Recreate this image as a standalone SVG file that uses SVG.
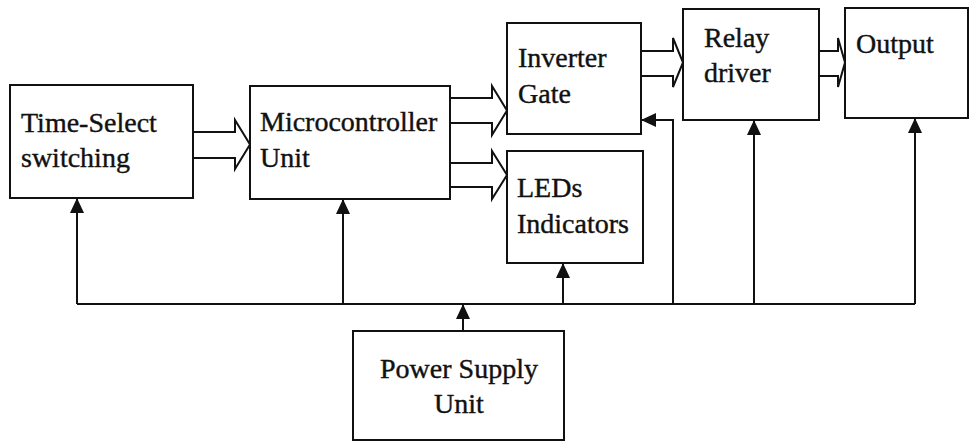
<svg xmlns="http://www.w3.org/2000/svg" width="970" height="441" viewBox="0 0 970 441">
<style>
.box{fill:#fff;stroke:#111;stroke-width:2}
.t{font-family:"Liberation Serif","Times New Roman",serif;font-size:28px;fill:#111;stroke:#111;stroke-width:0.4}
.c{text-anchor:middle}
.w{fill:none;stroke:#111;stroke-width:2;stroke-linejoin:miter}
.ln{fill:none;stroke:#111;stroke-width:2}
</style>
<defs>
<marker id="ah" viewBox="0 0 15 14" refX="15" refY="7" markerWidth="15" markerHeight="14" markerUnits="userSpaceOnUse" orient="auto">
<path d="M0 0 L15 7 L0 14 z" fill="#111"/>
</marker>
</defs>
<rect width="970" height="441" fill="#fff"/>
<g id="connectors">
<path class="w" d="M193 132 H235 V120 L250 144.5 L235 169 V158 H193"/>
<path class="w" d="M450 98 H492 V86 L507 110.5 L492 135 V123 H450"/>
<path class="w" d="M450 163 H492 V151 L507 175 L492 199 V187 H450"/>
<path class="w" d="M641 51 H673 V38 L683 62.5 L673 87 V76 H641"/>
<path class="w" d="M819 51 H838 V38 L845 62.5 L838 87 V76 H819"/>
<path class="ln" d="M77 304 H915"/>
<path class="ln" d="M77 304 V198" marker-end="url(#ah)"/>
<path class="ln" d="M343 304 V199" marker-end="url(#ah)"/>
<path class="ln" d="M563 304 V263" marker-end="url(#ah)"/>
<path class="ln" d="M754 304 V120" marker-end="url(#ah)"/>
<path class="ln" d="M915 304 V118" marker-end="url(#ah)"/>
<path class="ln" d="M673 304 V120 H641" marker-end="url(#ah)"/>
<path class="ln" d="M463 331 V304" marker-end="url(#ah)"/>
</g>
<g id="time-select">
<rect class="box" x="10" y="85" width="183" height="113"/>
<text class="t" x="21" y="132">Time-Select</text>
<text class="t" x="21" y="167">switching</text>
</g>
<g id="mcu">
<rect class="box" x="250" y="86" width="200" height="113"/>
<text class="t" x="260" y="131">Microcontroller</text>
<text class="t" x="260" y="167">Unit</text>
</g>
<g id="inverter">
<rect class="box" x="507" y="23" width="134" height="111"/>
<text class="t" x="518" y="67">Inverter</text>
<text class="t" x="518" y="103">Gate</text>
</g>
<g id="leds">
<rect class="box" x="507" y="151" width="136" height="112"/>
<text class="t" x="517" y="197">LEDs</text>
<text class="t" x="517" y="233">Indicators</text>
</g>
<g id="relay">
<rect class="box" x="683" y="9" width="136" height="111"/>
<text class="t" x="704" y="47">Relay</text>
<text class="t" x="704" y="82">driver</text>
</g>
<g id="output">
<rect class="box" x="845" y="8" width="123" height="110"/>
<text class="t" x="856" y="53">Output</text>
</g>
<g id="psu">
<rect class="box" x="353" y="331" width="211" height="109"/>
<text class="t c" x="459" y="378">Power Supply</text>
<text class="t c" x="459" y="413">Unit</text>
</g>
</svg>
